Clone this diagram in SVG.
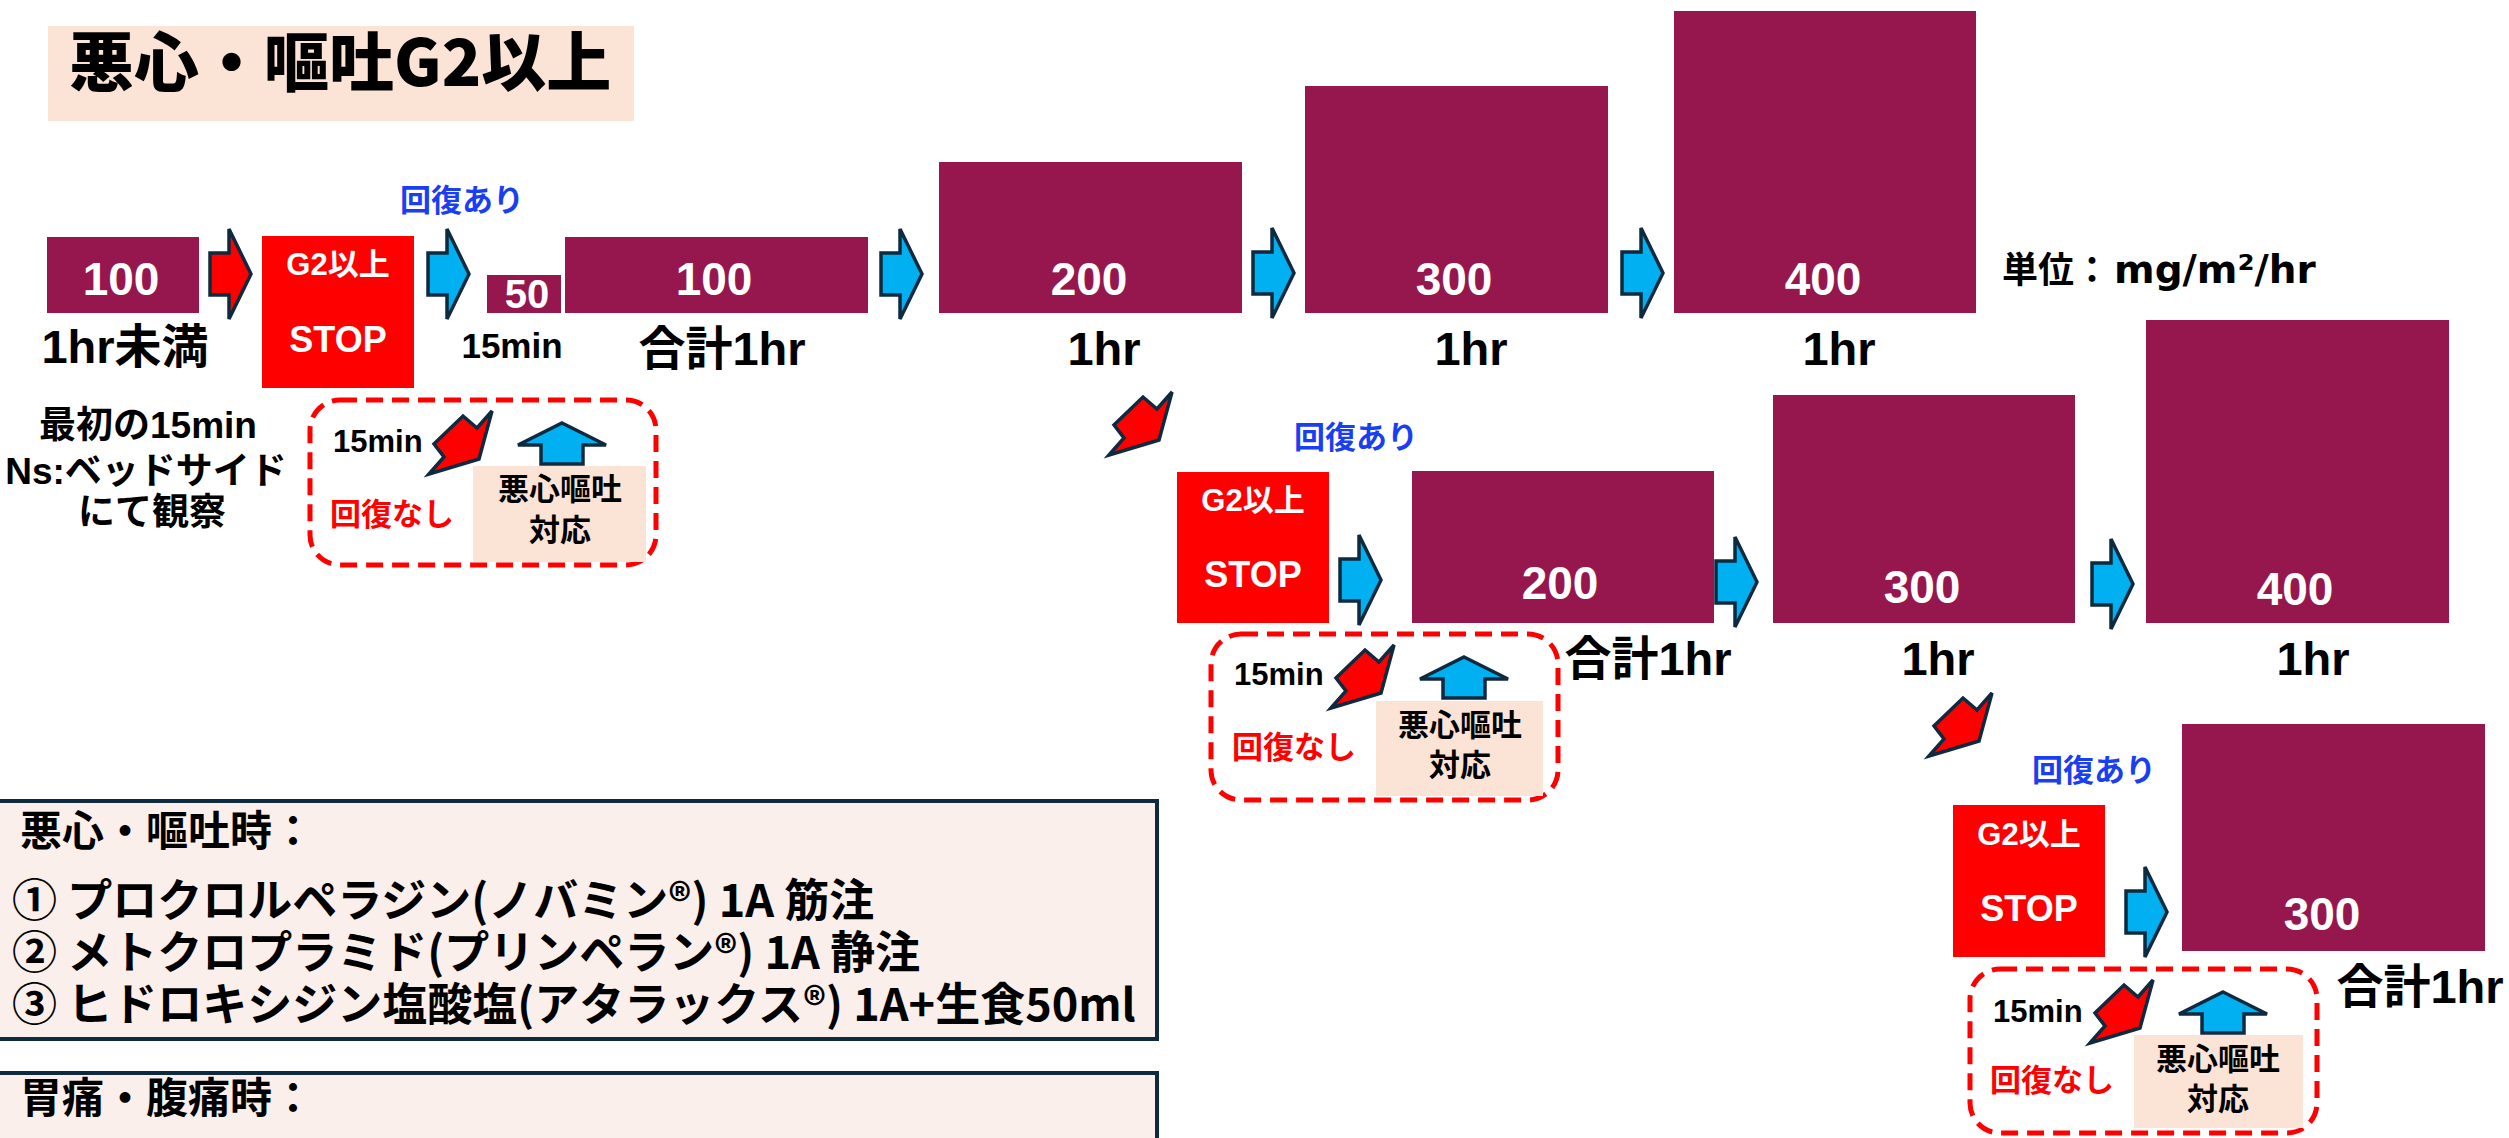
<svg xmlns="http://www.w3.org/2000/svg" xmlns:xlink="http://www.w3.org/1999/xlink" width="2509" height="1138" viewBox="0 0 2509 1138">
<defs>
<style>
.dose{fill:#95174E}
.stop{fill:#FF0000}
.peach{fill:#FBE3D6}
.num{font-family:"Liberation Sans",Arial,sans-serif;font-weight:bold;fill:#FFFFFF;font-size:46px;text-anchor:middle}
.lbl{font-family:"Liberation Sans","Noto Sans CJK JP",sans-serif;font-weight:bold;fill:#000000;font-size:47px;text-anchor:middle}
.g2{font-family:"Liberation Sans","Noto Sans CJK JP",sans-serif;font-weight:bold;fill:#FFFFFF;font-size:31px;text-anchor:middle}
.stoptxt{font-family:"Liberation Sans",Arial,sans-serif;font-weight:bold;fill:#FFFFFF;font-size:36px;text-anchor:middle}
.ok{font-family:"Noto Sans CJK JP",sans-serif;font-weight:bold;fill:#1A3FF2;font-size:31px}
.ng{font-family:"Noto Sans CJK JP",sans-serif;font-weight:bold;fill:#FF0000;font-size:31px}
.sm{font-family:"Liberation Sans","Noto Sans CJK JP",sans-serif;font-weight:bold;fill:#000000;font-size:31px}
.pj{font-family:"Noto Sans CJK JP",sans-serif;font-weight:bold;fill:#000000;font-size:31px;text-anchor:middle}
.dash{fill:none;stroke:#FF0000;stroke-width:5;stroke-dasharray:17 9}
.arr{stroke:#0E2A3F;stroke-width:3.5;stroke-linejoin:miter}
.blue{fill:#00B0F0}
.red{fill:#FF0000}
.note{font-family:"Liberation Sans","Noto Sans CJK JP",sans-serif;font-weight:bold;fill:#000000;font-size:37px;text-anchor:middle}
.panel{fill:#FAEFEA;stroke:#0E2A3F;stroke-width:4}
.ptxt{font-family:"Noto Sans CJK JP",sans-serif;font-weight:bold;fill:#000000;font-size:45px}
.phead{font-family:"Noto Sans CJK JP",sans-serif;font-weight:bold;fill:#000000;font-size:42px}
</style>
<path id="ra" d="M0,-21 H19 V-45 L41,0 L19,45 V21 H0 Z"/>
<path id="ua" d="M0,0 L44,22 H21 V41 H-21 V22 H-44 Z"/>
<path id="da" d="M0,0 L15,-17 L5,-30 L34,-58 L48,-46 L63,-63 L50,-15 Z"/>
</defs>
<rect width="2509" height="1138" fill="#FFFFFF"/>

<g id="title">
<rect x="48" y="26" width="586" height="95" class="peach"/>
<text x="69" y="86" font-family="Noto Sans CJK JP, sans-serif" font-weight="900" font-size="65" fill="#000000">悪心・嘔吐G2以上</text>
</g>

<g id="unit">
<text y="283" font-weight="bold" font-size="36" fill="#000000" font-family="Noto Sans CJK JP, sans-serif"><tspan x="2002">単位：</tspan><tspan x="2114" font-family="DejaVu Sans, Noto Sans CJK JP, sans-serif" font-size="39">mg/m²/hr</tspan></text>
</g>

<!-- Row 1 -->
<g id="r1-100">
<rect x="47" y="237" width="152" height="76" class="dose"/>
<text x="121" y="295" class="num">100</text>
<text x="125" y="363" class="lbl">1hr未満</text>
</g>
<g id="r1-note">
<text x="148" y="438" class="note">最初の15min</text>
<text x="146" y="484" class="note">Ns:ベッドサイド</text>
<text x="152" y="525" class="note">にて観察</text>
</g>
<g id="r1-stop">
<rect x="262" y="236" width="152" height="152" class="stop"/>
<text x="338" y="275" class="g2">G2以上</text>
<text x="338" y="352" class="stoptxt">STOP</text>
</g>
<g id="r1-ok"><text x="400" y="211" class="ok">回復あり</text></g>
<g id="r1-50">
<rect x="487" y="275" width="74" height="38" class="dose"/>
<text x="527" y="308" class="num" style="font-size:40px">50</text>
<text x="512" y="358" class="lbl" style="font-size:35px">15min</text>
</g>
<g id="r1-100b">
<rect x="565" y="237" width="303" height="76" class="dose"/>
<text x="714" y="295" class="num">100</text>
<text x="722" y="365" class="lbl">合計1hr</text>
</g>
<g id="r1-200">
<rect x="939" y="162" width="303" height="151" class="dose"/>
<text x="1089" y="295" class="num">200</text>
<text x="1104" y="365" class="lbl">1hr</text>
</g>
<g id="r1-300">
<rect x="1305" y="86" width="303" height="227" class="dose"/>
<text x="1454" y="295" class="num">300</text>
<text x="1471" y="365" class="lbl">1hr</text>
</g>
<g id="r1-400">
<rect x="1674" y="11" width="302" height="302" class="dose"/>
<text x="1823" y="295" class="num">400</text>
<text x="1839" y="365" class="lbl">1hr</text>
</g>
<g id="r1-fail">
<rect x="310" y="400" width="346" height="165" rx="30" class="dash"/>
<rect x="473" y="466" width="173" height="96" class="peach"/>
<text x="560" y="500" class="pj">悪心嘔吐</text>
<text x="560" y="541" class="pj">対応</text>
<text x="333" y="452" class="sm">15min</text>
<text x="330" y="525" class="ng">回復なし</text>
</g>

<!-- Row 2 -->
<g id="r2-stop">
<rect x="1177" y="472" width="152" height="151" class="stop"/>
<text x="1253" y="511" class="g2">G2以上</text>
<text x="1253" y="587" class="stoptxt">STOP</text>
</g>
<g id="r2-ok"><text x="1294" y="448" class="ok">回復あり</text></g>
<g id="r2-200">
<rect x="1412" y="471" width="302" height="152" class="dose"/>
<text x="1560" y="599" class="num">200</text>
<text x="1648" y="675" class="lbl">合計1hr</text>
</g>
<g id="r2-300">
<rect x="1773" y="395" width="302" height="228" class="dose"/>
<text x="1922" y="603" class="num">300</text>
<text x="1938" y="675" class="lbl">1hr</text>
</g>
<g id="r2-400">
<rect x="2146" y="320" width="303" height="303" class="dose"/>
<text x="2295" y="605" class="num">400</text>
<text x="2313" y="675" class="lbl">1hr</text>
</g>
<g id="r2-fail">
<rect x="1211" y="634" width="347" height="166" rx="30" class="dash"/>
<rect x="1376" y="701" width="167" height="95" class="peach"/>
<text x="1460" y="736" class="pj">悪心嘔吐</text>
<text x="1460" y="776" class="pj">対応</text>
<text x="1234" y="685" class="sm">15min</text>
<text x="1232" y="758" class="ng">回復なし</text>
</g>

<!-- Row 3 -->
<g id="r3-stop">
<rect x="1953" y="805" width="152" height="152" class="stop"/>
<text x="2029" y="845" class="g2">G2以上</text>
<text x="2029" y="921" class="stoptxt">STOP</text>
</g>
<g id="r3-ok"><text x="2032" y="781" class="ok">回復あり</text></g>
<g id="r3-300">
<rect x="2182" y="724" width="303" height="227" class="dose"/>
<text x="2322" y="930" class="num">300</text>
<text x="2420" y="1003" class="lbl">合計1hr</text>
</g>
<g id="r3-fail">
<rect x="1970" y="969" width="347" height="164" rx="30" class="dash"/>
<rect x="2134" y="1035" width="169" height="93" class="peach"/>
<text x="2218" y="1070" class="pj">悪心嘔吐</text>
<text x="2218" y="1110" class="pj">対応</text>
<text x="1993" y="1022" class="sm">15min</text>
<text x="1990" y="1091" class="ng">回復なし</text>
</g>

<!-- Panels -->
<g id="panel-nausea">
<rect x="-4" y="801" width="1161" height="238" class="panel"/>
<text x="20" y="846" class="phead">悪心・嘔吐時：</text>
<text class="ptxt"><tspan x="12" y="917">① プロクロルペラジン(ノバミン®) 1A 筋注</tspan><tspan x="12" y="969">② メトクロプラミド(プリンペラン®) 1A 静注</tspan><tspan x="12" y="1021">③ ヒドロキシジン塩酸塩(アタラックス®) 1A+生食50ml</tspan></text>
</g>
<g id="panel-pain">
<rect x="-4" y="1073" width="1161" height="120" class="panel"/>
<text x="20" y="1113" class="phead">胃痛・腹痛時：</text>
</g>

<g id="connectors">
<use xlink:href="#ra" href="#ra" x="210" y="274" class="arr red"/>
<use xlink:href="#ra" href="#ra" x="428" y="274" class="arr blue"/>
<use xlink:href="#ra" href="#ra" x="881" y="274" class="arr blue"/>
<use xlink:href="#ra" href="#ra" x="1253" y="273" class="arr blue"/>
<use xlink:href="#ra" href="#ra" x="1622" y="273" class="arr blue"/>
<use xlink:href="#ra" href="#ra" x="1340" y="580" class="arr blue"/>
<use xlink:href="#ra" href="#ra" x="1716" y="582" class="arr blue"/>
<use xlink:href="#ra" href="#ra" x="2092" y="584" class="arr blue"/>
<use xlink:href="#ra" href="#ra" x="2126" y="912" class="arr blue"/>
<use xlink:href="#ua" href="#ua" x="562" y="423" class="arr blue"/>
<use xlink:href="#ua" href="#ua" x="1464" y="657" class="arr blue"/>
<use xlink:href="#ua" href="#ua" x="2223" y="992" class="arr blue"/>
<use xlink:href="#da" href="#da" x="429" y="474" class="arr red"/>
<use xlink:href="#da" href="#da" x="1109" y="455" class="arr red"/>
<use xlink:href="#da" href="#da" x="1331" y="708" class="arr red"/>
<use xlink:href="#da" href="#da" x="1929" y="756" class="arr red"/>
<use xlink:href="#da" href="#da" x="2090" y="1043" class="arr red"/>
</g>
</svg>
